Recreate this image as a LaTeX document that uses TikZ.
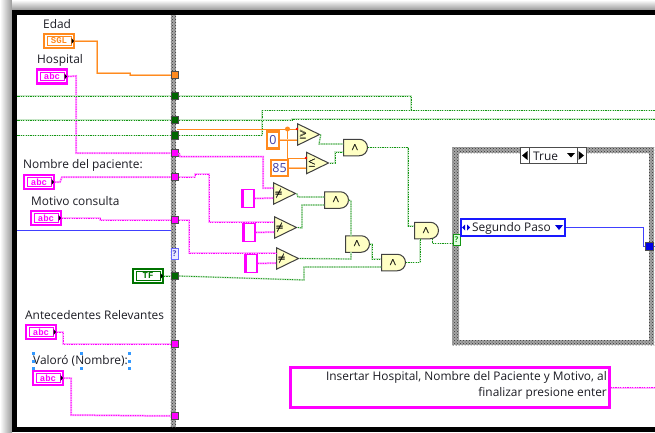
\documentclass[tikz,border=0pt]{standalone}
\usepackage{amsmath}
\usepackage{fontspec}
\setmainfont{Open Sans}
\newfontfamily\termfont{Liberation Mono}
\usetikzlibrary{shapes.geometric, shapes.misc, patterns}

\definecolor{wireorange}{HTML}{FF8A1E}
\definecolor{lightorange}{HTML}{FFC48C}
\definecolor{wirepink}{HTML}{FF00FF}
\definecolor{lightpink}{HTML}{FFB0FF}
\definecolor{wiregreen}{HTML}{149614}
\definecolor{lightgreen}{HTML}{C8E6C8}
\definecolor{gatefill}{HTML}{FFFFC4}
\definecolor{inktext}{HTML}{1C1C24}

\tikzset{
    lbl/.style={anchor=west, inner sep=0pt, font=\fontsize{11.9}{13}\selectfont, text=inktext},
    bar/.style={preaction={fill=black!35}, pattern=crosshatch dots, pattern color=black!80},
    tunnel/.style={rectangle, draw=black!70, line width=0.9pt, fill=#1, minimum size=7.5pt, inner sep=0pt},
    strterm/.style={rectangle, draw=wirepink, line width=2.4pt, fill=white, minimum width=29.5pt, minimum height=14pt, inner sep=0pt},
    strtext/.style={rectangle, draw=wirepink, line width=0.6pt, fill=white, minimum width=24pt, minimum height=8.5pt, inner sep=0pt,
        text=wirepink, font=\termfont\bfseries\fontsize{9}{9}\selectfont},
    strconst/.style={rectangle, draw=wirepink, line width=1.8pt, fill=white, minimum width=12pt, minimum height=18pt, inner sep=0pt},
    numconst/.style={rectangle, draw=wireorange, line width=2.2pt, fill=white, inner sep=0pt, text=black!20!blue!50!gray,
        font=\fontsize{12.5}{12.5}\selectfont},
    cmpgate/.style={isosceles triangle, isosceles triangle stretches, shape border rotate=0, anchor=lower side, draw=black!75,
        line width=1pt, fill=gatefill, minimum width=21.5pt, minimum height=22pt, inner sep=0pt},
    andgate/.style={rounded rectangle, rounded rectangle left arc=none, anchor=west, draw=black!75, line width=1pt,
        fill=gatefill, minimum width=24pt, minimum height=16.5pt, inner sep=0pt},
    grwire/.style={preaction={draw=lightgreen, solid, line width=1.6pt}, draw=wiregreen, line width=0.8pt, dash pattern=on 1.2pt off 1.2pt},
    pkwire/.style={preaction={draw=lightpink, solid, line width=2pt}, draw=wirepink, line width=1pt, dash pattern=on 1.2pt off 1.2pt},
    orwire/.style={preaction={draw=lightorange, line width=1.8pt}, draw=wireorange, line width=0.9pt},
    bluewire/.style={draw=blue!75!white, line width=1pt}
}

\begin{document}
\begin{tikzpicture}[x=1pt, y=-1pt]
    \useasboundingbox (0,0) rectangle (655,432);
    \clip (0,0) rectangle (655,432);

    % Sombra y marco exterior
    \shade[left color=white, right color=black!40] (0,0) rectangle (12,432);
    \shade[top color=white, bottom color=black!40] (12,0) rectangle (655,10);
    \fill[black] (12,10) rectangle (660,432);
    \fill[white] (17,15) rectangle (660,427);
    \coordinate (leftedge) at (17,0);
    \coordinate (rightedge) at (655,0);

    % Marcos de la secuencia y del case
    \foreach \xa/\ya/\xb/\yb in {170.5/15/176/427, 452/147/654/153, 452/147/459/345, 649/147/654/345, 452/340/654/345}
        \fill[bar] (\xa,\ya) rectangle (\xb,\yb);

    % Tuneles sobre el marco
    \node[tunnel=wireorange] (tedad) at (175,75) {};
    \node[tunnel=green!40!black] (tgA) at (175,96) {};
    \node[tunnel=green!40!black] (tgB) at (175,120) {};
    \node[tunnel=green!40!black] (tgC) at (175,135.5) {};
    \node[tunnel=wirepink] (thosp) at (175,153) {};
    \node[tunnel=wirepink] (tnomb) at (175,177) {};
    \node[tunnel=wirepink] (tmoti) at (175,220) {};
    \node[tunnel=green!40!black] (tbool) at (175,276) {};
    \node[tunnel=wirepink] (tante) at (175,344) {};
    \node[tunnel=wirepink] (tvalo) at (175,416) {};
    \node[rectangle, draw=blue!60!white, line width=0.8pt, fill=blue!8, minimum width=7pt, minimum height=11pt, inner sep=0pt,
        font=\fontsize{8}{8}\bfseries\selectfont, text=blue!50!gray] (terr) at (174.5,254) {?};
    \node[rectangle, draw=wiregreen, line width=0.8pt, fill=green!12, minimum width=7pt, minimum height=11pt, inner sep=0pt,
        font=\fontsize{8}{8}\bfseries\selectfont, text=wiregreen] (tsel) at (456.5,240) {?};
    \node[tunnel=blue!90!black] (tout) at (649.5,246.5) {};

    % Etiquetas
    \node[lbl] (ledad) at (43,24) {Edad};
    \node[lbl] (lhosp) at (37,60) {Hospital};
    \node[lbl] (lnomb) at (23,165) {Nombre del paciente:};
    \node[lbl] (lmoti) at (31,201) {Motivo consulta};
    \node[lbl] (lante) at (25,315) {Antecedentes Relevantes};
    \node[lbl] (lvalo) at (33,361) {Valoró (Nombre):};
    \foreach \hx/\hy in {33/353, 81/353, 129/353, 33/361, 129/361, 33/368, 81/368, 129/368}
        \fill[blue!50!cyan!80] (\hx-1.5,\hy-1.5) rectangle (\hx+1.5,\hy+1.5);

    % Controles de texto
    \foreach \n/\x/\y in {hosp/52/76.5, nomb/39/182, moti/46/218, ante/41/332, valo/48/378} {
        \node[strterm] (\n) at (\x,\y) {};
        \node[strtext] (\n txt) at (\x,\y) {abc\hspace{4pt}};
        \fill[black] (\x+12.5,\y-3) -- (\x+15,\y) -- (\x+12.5,\y+3) -- cycle;
    }
    \node[strterm, draw=wireorange] (edad) at (59,41) {};
    \node[strtext, draw=wireorange, text=wireorange] (edadtxt) at (59,41) {SGL\hspace{3pt}};
    \fill[black] (71.5,38) -- (74,41) -- (71.5,44) -- cycle;
    \node[strterm, draw=green!45!black] (tf) at (148,276) {};
    \node[strtext, draw=green!45!black, text=green!45!black] (tftxt) at (148,276) {TF\hspace{3pt}};
    \fill[black] (160.5,273) -- (163,276) -- (160.5,279) -- cycle;

    % Comparadores y compuertas
    \node[cmpgate] (ge) at (297,134.5) {$\pmb{\geq}$};
    \node[cmpgate] (le) at (306,163) {$\pmb{\leq}$};
    \node[cmpgate] (neA) at (273,193.5) {$\pmb{\neq}$};
    \node[cmpgate] (neB) at (274,227.5) {$\pmb{\neq}$};
    \node[cmpgate] (neC) at (276,258.5) {$\pmb{\neq}$};
    \node[andgate] (andA) at (343,147.5) {$\pmb{\wedge}$};
    \node[andgate] (andB) at (324,200) {$\pmb{\wedge}$};
    \node[andgate] (andC) at (345,244) {$\pmb{\wedge}$};
    \node[andgate] (andD) at (381,262.5) {$\pmb{\wedge}$};
    \node[andgate] (andE) at (414,230.5) {$\pmb{\wedge}$};

    % Cables que llegan al marco izquierdo
    \draw[orwire] (edad.east) -- (97,41) -- (97,73) -- (130,73) -- (130,75) -- (tedad.west);
    \draw[pkwire] (hosp.east) -- (76,76) -- (76,153) -- (thosp.west);
    \draw[pkwire] (nomb.east) -- (60,182) -- (62,177) -- (tnomb.west);
    \draw[pkwire] (moti.east) -- (100,218) -- (100,220) -- (tmoti.west);
    \draw[pkwire] (ante.east) -- (63,332) -- (63,344) -- (tante.west);
    \draw[pkwire] (valo.east) -- (71,378) -- (71,415) -- (tvalo.west);
    \draw[bluewire] (terr.west |- 0,230) -- (leftedge |- 0,230);
    \draw[grwire] (tf.east) -- (tbool.west);
    \draw[grwire] (tgA.west) -- (tgA -| leftedge);
    \draw[grwire] (tgB.west) -- (tgB -| leftedge);
    \draw[grwire] (tgC.west) -- (tgC -| leftedge);

    % Cables hacia la derecha
    \draw[grwire] (tgA.east) -- (411,96) -- (411,110.5);
    \draw[grwire] (tgC.east) -- (262,135.5) -- (262,110.5) -- (rightedge |- 0,110.5);
    \draw[grwire] (tgB.east) -- (292,120) -- (292,119) -- (rightedge |- 0,119);
    \coordinate (orstart) at (176.5,129);
    \draw[draw=wireorange, line width=0.9pt] (orstart) -- ([yshift=5.5pt]ge.lower side);
    \fill[wireorange] (287.5,129) circle (2.5);
    \draw[draw=wireorange, line width=0.9pt] (287.5,129) -- (287.5,158) -- ([yshift=5pt]le.lower side);
    \draw[pkwire] (thosp.east) -- (180,156.5) -- (263,156.5) -- (263,188) -- ([yshift=5.5pt]neA.lower side);
    \draw[pkwire] (tnomb.east) -- (195,177) -- (195,174) -- (209,174) -- (209,222) -- ([yshift=5.5pt]neB.lower side);
    \draw[pkwire] (tmoti.east) -- (189,220) -- (189,253) -- ([yshift=5.5pt]neC.lower side);

    % Constantes numericas y de texto
    \node[numconst, minimum width=12pt, minimum height=17pt] (cero) at (273,140) {0};
    \node[numconst, minimum width=17pt, minimum height=16.5pt] (ochenta) at (279.5,168) {85};
    \draw[orwire] (cero.east) -- ([yshift=-5.5pt]ge.lower side);
    \draw[orwire] (ochenta.east) -- ([yshift=-5pt]le.lower side);
    \fill[red] (297,129) circle (1.4);
    \fill[red] (306,158) circle (1.4);
    \foreach \n/\x/\y/\g in {strA/248/198.5/neA, strB/249/232.5/neB, strC/251/263.5/neC} {
        \node[strconst] (\n) at (\x,\y) {};
        \draw[wirepink, line width=3pt] (\x-6,\y-9) -- (\x-6,\y+9);
        \draw[pkwire] (\n.east) -- ([yshift=-4.5pt]\g.lower side);
    }

    % Cables entre compuertas
    \draw[grwire] (ge.apex) -- (319,144) -- ([yshift=3.5pt]andA.west);
    \draw[grwire] (le.apex) -- (335,163) -- (335,152) -- ([yshift=-4.5pt]andA.west);
    \draw[grwire] (andA.east) -- (408,147.5) -- (408,226) -- ([yshift=4.5pt]andE.west);
    \draw[grwire] (neA.apex) -- (298,197) -- ([yshift=3pt]andB.west);
    \draw[grwire] (neB.apex) -- (302,228) -- (302,205) -- ([yshift=-5pt]andB.west);
    \draw[grwire] (neC.apex) -- (351,259) -- (351,252);
    \draw[grwire] (andB.east) -- (351,201) -- (351,236);
    \draw[grwire] (andC.east) -- (372,244) -- (372,259) -- ([yshift=3.5pt]andD.west);
    \draw[grwire] (tbool.east) -- (304,280) -- (304,267) -- ([yshift=-4.5pt]andD.west);
    \draw[grwire] (andD.east) -- (420,262.5) -- (420,239);
    \draw[grwire] (432.5,239) -- (432.5,243.5) -- ([yshift=-3.5pt]tsel.west);

    % Selector del case
    \node[rectangle, draw=black!70, line width=0.8pt, fill=white, minimum width=48pt, minimum height=16pt, inner sep=0pt] (selmid) at (553,155.5) {};
    \node[rectangle, draw=black!70, line width=0.8pt, fill=white, minimum width=9pt, minimum height=16pt, inner sep=0pt] (selleft) at (524.5,155.5) {};
    \node[rectangle, draw=black!70, line width=0.8pt, fill=white, minimum width=9pt, minimum height=16pt, inner sep=0pt] (selright) at (581.5,155.5) {};
    \node[lbl] (seltxt) at (533,156) {True};
    \fill[black] (527.5,151) -- (522,155.5) -- (527.5,160) -- cycle;
    \fill[black] (578.5,151) -- (584,155.5) -- (578.5,160) -- cycle;
    \fill[black] (567,153) -- (575,153) -- (571,157.5) -- cycle;

    % Constante de enumeracion
    \node[rectangle, draw=blue!90!white, line width=2.2pt, fill=white, minimum width=104pt, minimum height=17.5pt, inner sep=0pt] (paso) at (513,227.5) {};
    \node[lbl] (pasotxt) at (472,228) {Segundo Paso};
    \fill[blue!85!black] (467,224.5) -- (470,227.5) -- (467,230.5) -- cycle;
    \fill[blue!85!black] (465,224.5) -- (462,227.5) -- (465,230.5) -- cycle;
    \fill[blue!85!black] (555,225) -- (563,225) -- (559,230) -- cycle;
    \draw[bluewire] (paso.east) -- (643,227.5) -- (643,246.5) -- (tout.west);
    \draw[bluewire] (tout.east) -- (rightedge |- tout);

    % Constante de instrucciones
    \node[rectangle, draw=wirepink, line width=2.2pt, fill=white, minimum width=319pt, minimum height=40pt, inner sep=0pt] (instr) at (450,387.5) {};
    \node[anchor=east, align=right, inner sep=0pt, text=inktext, font=\fontsize{11.9}{16}\selectfont] (instrtxt) at (607,385)
        {Insertar Hospital, Nombre del Paciente y Motivo, al\\finalizar presione enter};
    \draw[pkwire] (instr.east) -- (rightedge |- instr);
\end{tikzpicture}
\end{document}
